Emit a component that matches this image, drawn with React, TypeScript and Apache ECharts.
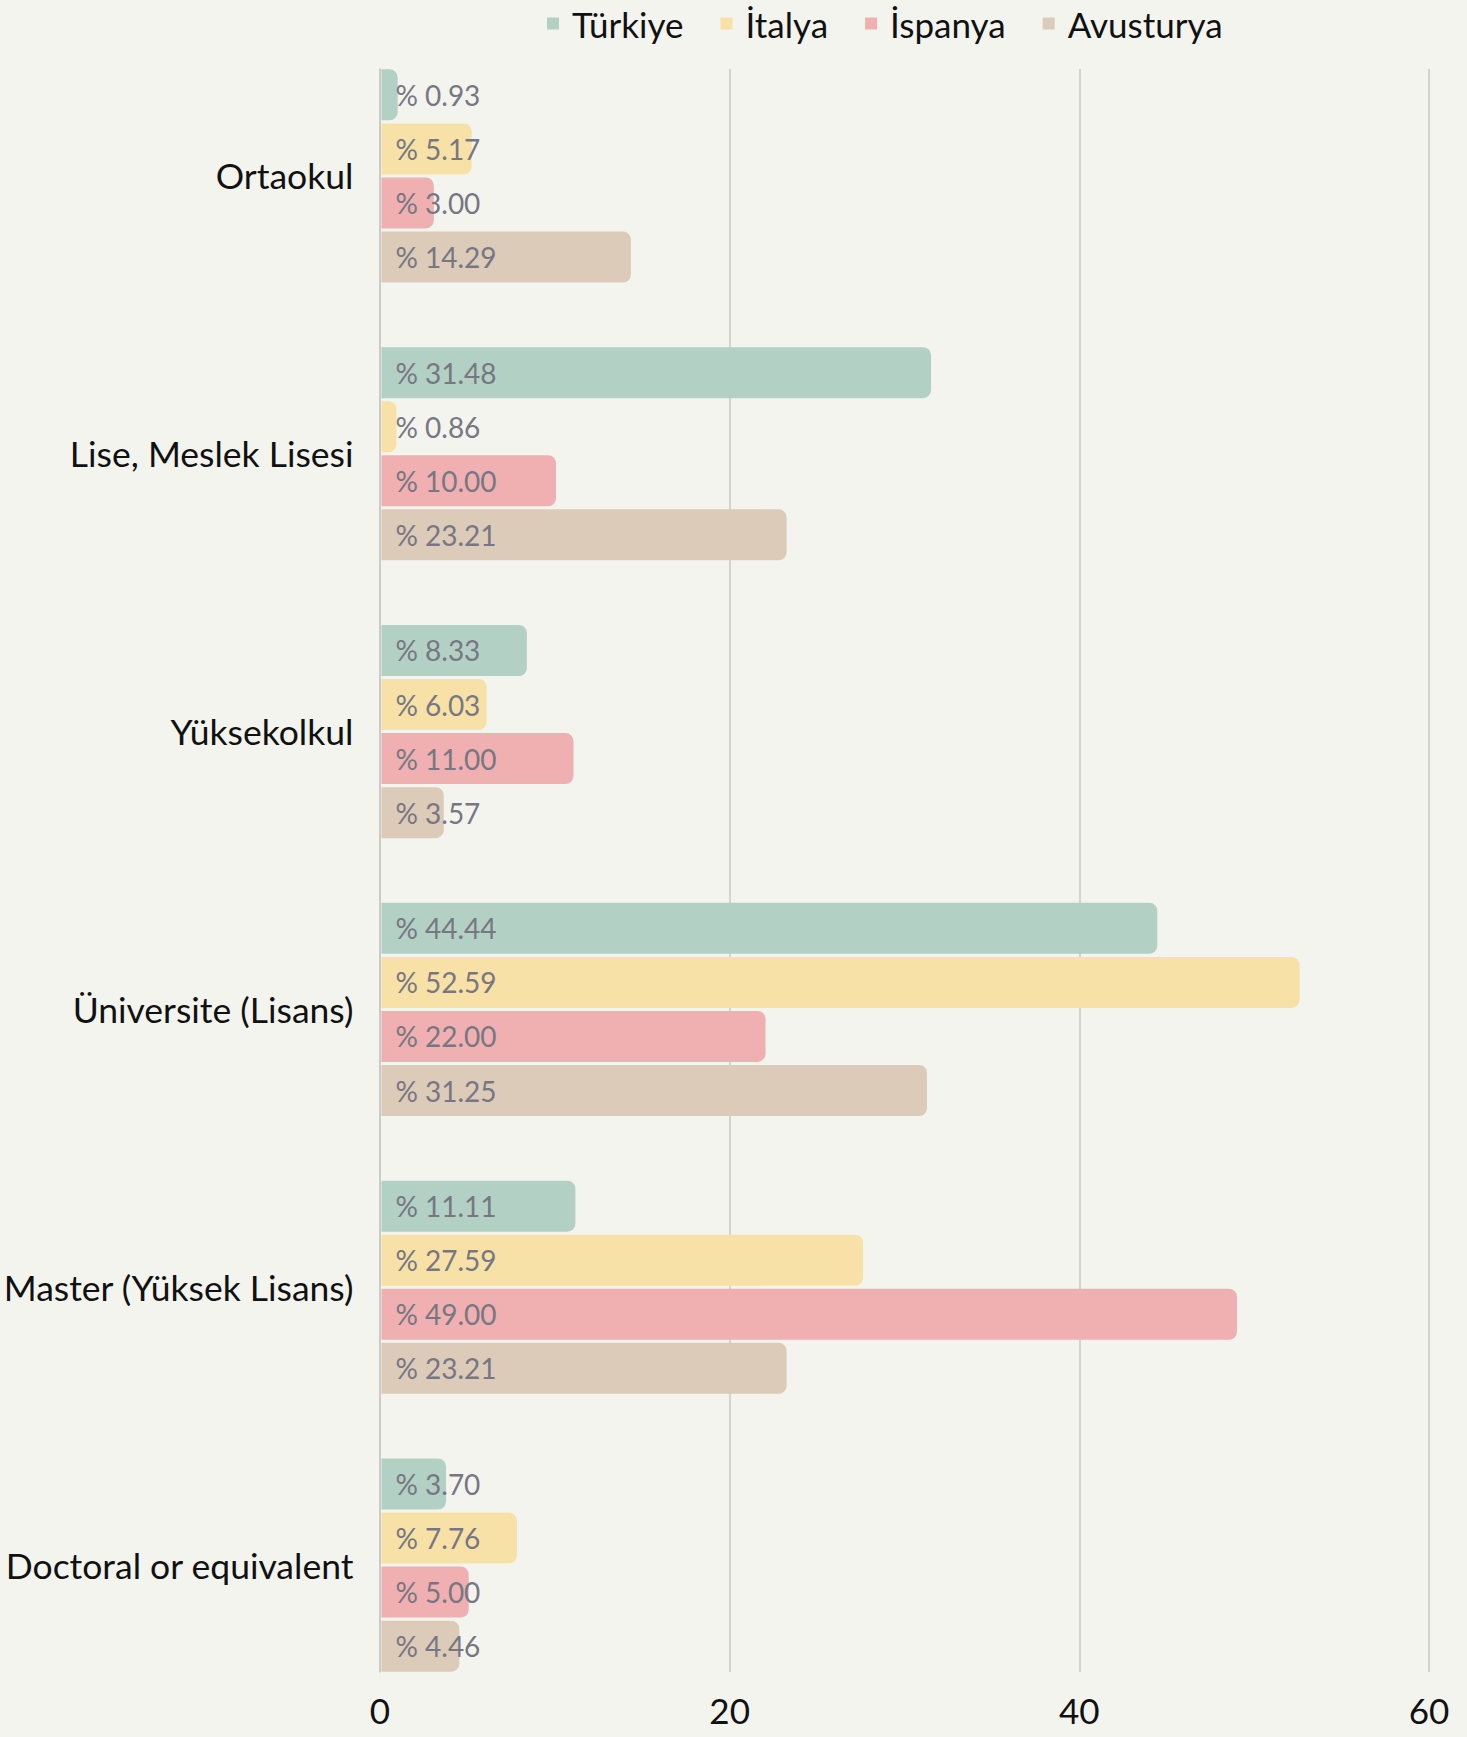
import React, { useEffect, useRef } from "react";
import * as echarts from "echarts";

const categories = [
  "Ortaokul",
  "Lise, Meslek Lisesi",
  "Yüksekolkul",
  "Üniversite (Lisans)",
  "Master (Yüksek Lisans)",
  "Doctoral or equivalent",
];
const seriesNames = ["Türkiye", "İtalya", "İspanya", "Avusturya"];
const turkiye = [0.93, 31.48, 8.33, 44.44, 11.11, 3.7];
const italya = [5.17, 0.86, 6.03, 52.59, 27.59, 7.76];
const ispanya = [3.0, 10.0, 11.0, 22.0, 49.0, 5.0];
const avusturya = [14.29, 23.21, 3.57, 31.25, 23.21, 4.46];
const colors = ["#b3d0c4", "#f8e1a6", "#f0b0b1", "#dccbb8"];
const xTicks = { min: 0, max: 60, interval: 20 };

const FONT = "Lato";

export default function App() {
  const ref = useRef<HTMLDivElement>(null);
  useEffect(() => {
    document.body.style.margin = "0";
    const chart = echarts.init(ref.current!, null, { renderer: "svg" });
    const allData = [turkiye, italya, ispanya, avusturya];
    chart.setOption({
      animation: false,
      backgroundColor: "#f4f4ef",
      textStyle: { fontFamily: FONT },
      legend: {
        data: seriesNames,
        top: 1,
        left: 542,
        itemWidth: 12,
        itemHeight: 12,
        itemGap: 37,
        icon: "rect",
        textStyle: {
          fontSize: 35,
          color: "#111",
          fontFamily: FONT,
          padding: [0, 0, 0, 8],
        },
      },
      grid: [
        { left: 380, right: 38, top: 37, bottom: 33 },
        { left: 380, right: 38, top: 69, bottom: 65 },
      ],
      xAxis: [
        {
          gridIndex: 0,
          type: "value",
          ...xTicks,
          show: false,
          splitLine: { show: false },
        },
        {
          gridIndex: 1,
          type: "value",
          ...xTicks,
          axisLine: { show: false },
          axisTick: { show: false },
          splitLine: { show: true, lineStyle: { color: "#c9c9c6", width: 1.5 } },
          axisLabel: { fontSize: 35, color: "#111", margin: 20, fontFamily: FONT },
        },
      ],
      yAxis: [
        {
          gridIndex: 0,
          type: "category",
          data: categories,
          inverse: true,
          axisLine: { show: false },
          axisTick: { show: false },
          axisLabel: { fontSize: 35.5, color: "#111", margin: 28, fontFamily: FONT },
        },
        {
          gridIndex: 1,
          type: "category",
          data: categories,
          inverse: true,
          axisLine: { show: true, lineStyle: { color: "#c9c9c6", width: 1.5 } },
          axisTick: { show: false },
          axisLabel: { show: false },
        },
      ],
      series: seriesNames.map((name, i) => ({
        name,
        type: "bar",
        xAxisIndex: 0,
        yAxisIndex: 0,
        data: allData[i],
        barWidth: 51,
        barGap: "6%",
        itemStyle: { color: colors[i], borderRadius: [0, 8, 8, 0] },
        label: {
          show: true,
          position: "insideLeft",
          distance: 14,
          color: "#777783",
          fontSize: 28,
          fontFamily: FONT,
          padding: [8, 0, 0, 0],
          formatter: (p: any) => "% " + Number(p.value).toFixed(2),
        },
      })),
    });
    return () => chart.dispose();
  }, []);
  return <div ref={ref} style={{ width: 1467, height: 1737 }} />;
}
